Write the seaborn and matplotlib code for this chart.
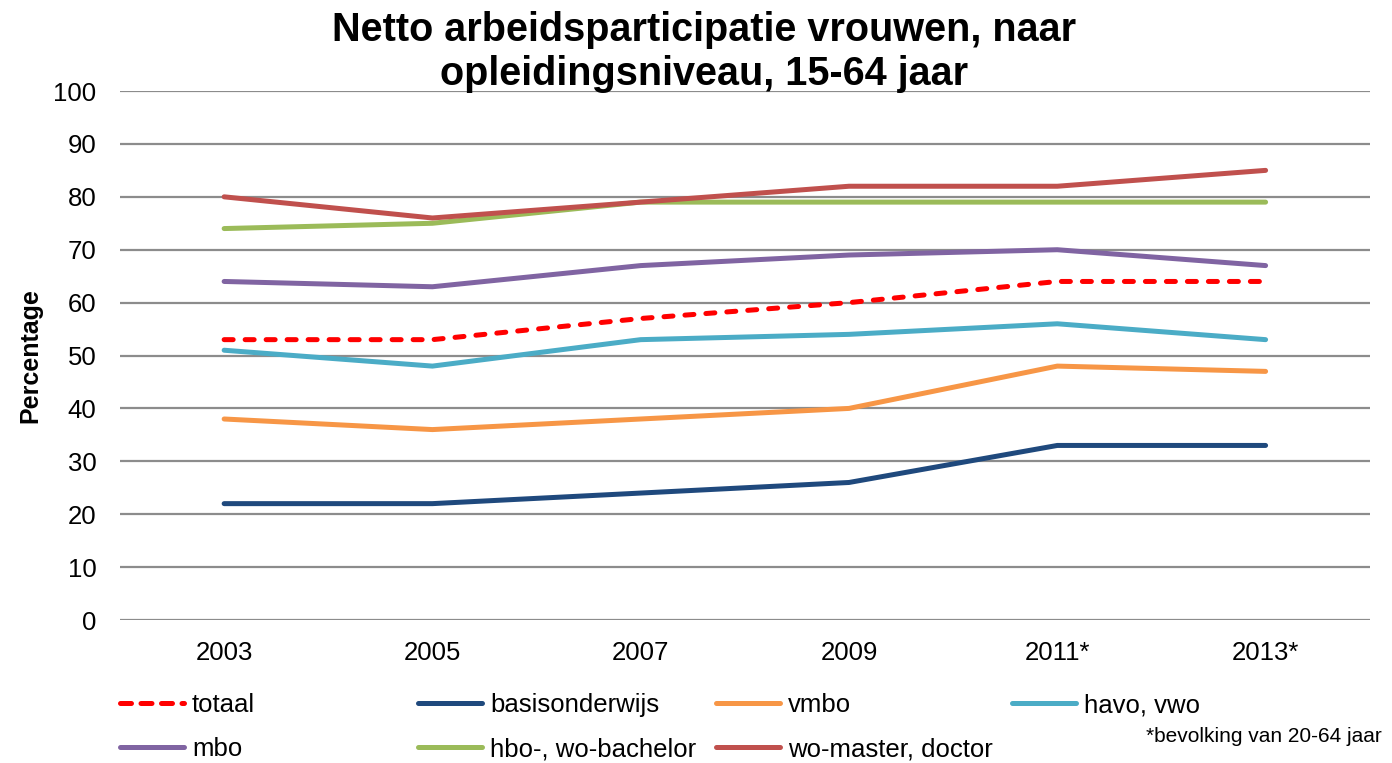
import matplotlib
matplotlib.use("Agg")
import matplotlib.pyplot as plt
import seaborn as sns
import pandas as pd
from matplotlib.lines import Line2D

years = ["2003", "2005", "2007", "2009", "2011*", "2013*"]
totaal = [53, 53, 57, 60, 64, 64]
basisonderwijs = [22, 22, 24, 26, 33, 33]
vmbo = [38, 36, 38, 40, 48, 47]
havo_vwo = [51, 48, 53, 54, 56, 53]
mbo = [64, 63, 67, 69, 70, 67]
hbo_wo_bachelor = [74, 75, 79, 79, 79, 79]
wo_master_doctor = [80, 76, 79, 82, 82, 85]

series = {
    "totaal": totaal,
    "basisonderwijs": basisonderwijs,
    "vmbo": vmbo,
    "havo, vwo": havo_vwo,
    "mbo": mbo,
    "hbo-, wo-bachelor": hbo_wo_bachelor,
    "wo-master, doctor": wo_master_doctor,
}
colors = {
    "totaal": "#FF0000",
    "basisonderwijs": "#1F497D",
    "vmbo": "#F79646",
    "havo, vwo": "#4BACC6",
    "mbo": "#8064A2",
    "hbo-, wo-bachelor": "#9BBB59",
    "wo-master, doctor": "#C0504D",
}

rows = []
for name, vals in series.items():
    for i, (y, v) in enumerate(zip(years, vals)):
        rows.append({"jaar": y, "idx": i, "reeks": name, "waarde": v})
df = pd.DataFrame(rows)

sns.set_theme(style="white", rc={"text.color": "black", "axes.labelcolor": "black",
                                 "xtick.color": "black", "ytick.color": "black"})
plt.rcParams["font.family"] = ["Liberation Sans", "DejaVu Sans"]

fig = plt.figure(figsize=(13.92, 7.63), dpi=100)
ax = fig.add_axes([0.0862, 0.1874, 0.8978, 0.6933])

draw_order = ["basisonderwijs", "vmbo", "havo, vwo", "mbo", "hbo-, wo-bachelor", "wo-master, doctor", "totaal"]
for name in draw_order:
    sub = df[df["reeks"] == name]
    sns.lineplot(data=sub, x="idx", y="waarde", ax=ax, color=colors[name],
                 linewidth=3.6, solid_capstyle="round", dash_capstyle="round",
                 linestyle="--" if name == "totaal" else "-",
                 dashes=False, legend=False, zorder=3)
for l in ax.get_lines():
    if l.get_linestyle() == "--":
        l.set_dashes([1.8, 2.4])

ax.set_xlim(-0.5, len(years) - 0.5)
ax.set_ylim(0, 100)
ax.set_yticks(range(0, 101, 10))
ax.set_xticks(range(len(years)))
ax.set_xticklabels(years)
ax.grid(axis="y", color="#8C8C8C", linewidth=1.6, zorder=0)
ax.grid(axis="x", visible=False)
for s in ax.spines.values():
    s.set_visible(False)
ax.tick_params(axis="both", length=0, labelsize=18.5, colors="black")
ax.tick_params(axis="x", pad=15)
ax.tick_params(axis="y", pad=17)
ax.set_xlabel("")
ax.set_ylabel("Percentage", fontsize=18, fontweight="bold", labelpad=8)

fig.text(0.5057, 1 - 11 / 763, "Netto arbeidsparticipatie vrouwen, naar\nopleidingsniveau, 15-64 jaar",
         ha="center", va="top", fontsize=28.5, fontweight="bold", linespacing=1.2)

cols = [["totaal", "mbo"], ["basisonderwijs", "hbo-, wo-bachelor"],
        ["vmbo", "wo-master, doctor"], ["havo, vwo"]]
col_x = [120, 418, 716, 1012]
for cx, names in zip(col_x, cols):
    handles = []
    for n in names:
        h = Line2D([0], [0], color=colors[n], linewidth=3.6,
                   linestyle="--" if n == "totaal" else "-",
                   solid_capstyle="round", dash_capstyle="round")
        if n == "totaal":
            h.set_dashes([2.2, 1.9])
        handles.append(h)
    fig.legend(handles, names, loc="upper left",
               bbox_to_anchor=(cx / 1392, 1 - 693 / 763),
               frameon=False, fontsize=18.5, handlelength=2.5, handletextpad=0.3,
               labelspacing=0.78, borderaxespad=0, borderpad=0)

fig.text(1382 / 1392, 1 - 737 / 763, "*bevolking van 20-64 jaar", ha="right", va="center", fontsize=15)

fig.savefig("out.png", dpi=100)
